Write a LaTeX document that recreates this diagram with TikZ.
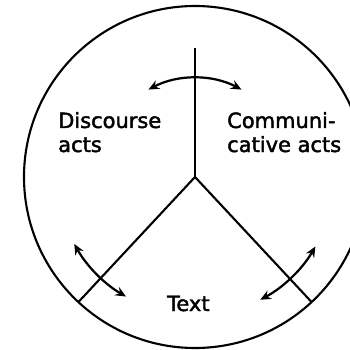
\documentclass[tikz,border=0pt]{standalone}
\usepackage{fontspec}
\setmainfont{DejaVu Sans}
\newfontfamily\labelfont{DejaVu Sans}[FakeBold=2]
\usepackage{tikz}
\usetikzlibrary{arrows.meta,positioning,calc}

\begin{document}
\begin{tikzpicture}[
    spoke/.style={line width=1.8pt},
    swing/.style={{Stealth[length=3.2mm,width=2.8mm,inset=1.1mm]}-{Stealth[length=3.2mm,width=2.8mm,inset=1.1mm]}, line width=1.9pt},
    label/.style={font=\labelfont\fontsize{17.9}{20.5}\selectfont, align=left, inner sep=0pt}
]
\useasboundingbox (-5.85,-5.19) rectangle (4.62,5.31);

\coordinate (hub) at (0,0);
\coordinate (top) at (0,3.87);
\coordinate (lend) at (227:5.13);
\coordinate (rend) at (-47:5.13);

\draw[spoke] (hub) circle[radius=5.13cm];
\draw[spoke] (hub) -- (top);
\draw[spoke] (hub) -- (lend);
\draw[spoke] (hub) -- (rend);

\draw[swing] (118:2.97) arc[start angle=118, end angle=62, radius=2.97cm];
\draw[swing] (209:4.14) arc[start angle=209, end angle=240, radius=4.14cm];
\draw[swing] (-30:4.17) arc[start angle=-30, end angle=-62, radius=4.17cm];

\node[label, anchor=base west] (disc) at (-4.11,0.75) {Discourse\\acts};
\node[label, anchor=base west] (comm) at (0.96,0.75) {Communi-\\cative acts};
\node[label, anchor=base] (text) at (-0.2,-4.02) {Text};
\end{tikzpicture}
\end{document}
